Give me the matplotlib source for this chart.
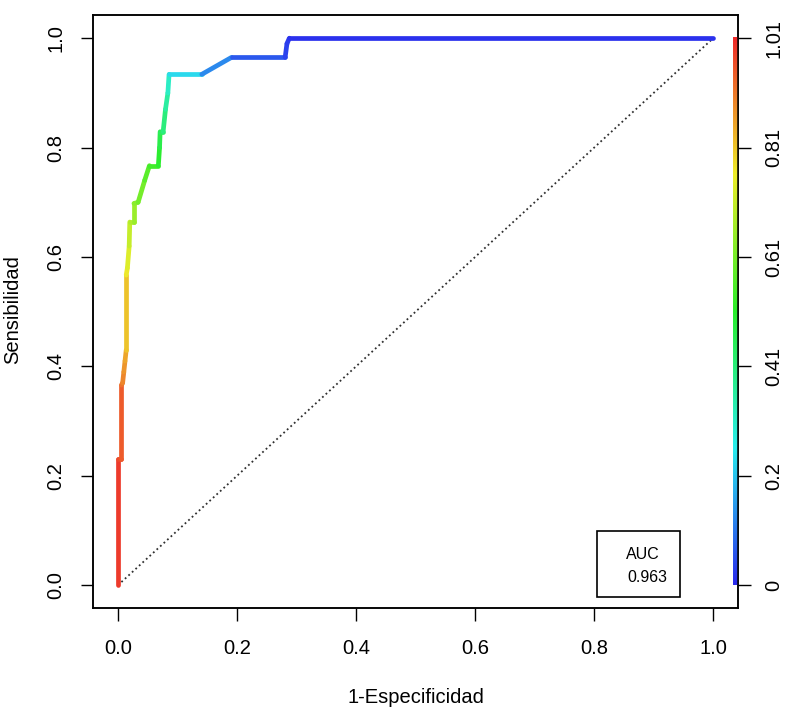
import colorsys
import numpy as np
import matplotlib
matplotlib.use("Agg")
import matplotlib.pyplot as plt
from matplotlib.collections import LineCollection
from matplotlib.colors import ListedColormap, Normalize
from matplotlib.patches import Rectangle

plt.rcParams['font.family'] = ['Liberation Sans', 'DejaVu Sans']

# puntos de la curva ROC
fpr = [0.0, 0.0, 0.006, 0.006, 0.008, 0.010, 0.012, 0.014, 0.014, 0.016, 0.019,
       0.020, 0.027, 0.027, 0.034, 0.045, 0.053, 0.068, 0.070, 0.071, 0.076,
       0.080, 0.084, 0.086, 0.141, 0.191, 0.281, 0.284, 0.288, 1.0]
tpr = [0.0, 0.23, 0.23, 0.366, 0.37, 0.39, 0.41, 0.43, 0.567, 0.58, 0.62,
       0.664, 0.664, 0.698, 0.70, 0.74, 0.767, 0.767, 0.80, 0.829, 0.829,
       0.87, 0.90, 0.934, 0.934, 0.965, 0.965, 0.99, 1.0, 1.0]
# punto de corte asociado a cada punto (escala de color)
cutoff = [1.01, 0.97, 0.96, 0.93, 0.90, 0.88, 0.86, 0.84, 0.78, 0.75, 0.72,
          0.69, 0.66, 0.64, 0.62, 0.58, 0.55, 0.52, 0.48, 0.45, 0.42,
          0.38, 0.33, 0.28, 0.17, 0.08, 0.04, 0.03, 0.02, 0.0]

cut_ticks = [0.0, 0.2, 0.4, 0.6, 0.8, 1.0]
cut_labels = ['0', '0.2', '0.41', '0.61', '0.81', '1.01']
auc = 0.963

# paleta tipo rainbow de R (rojo -> azul), invertida
cols = [colorsys.hsv_to_rgb((1 - t) * 4 / 6, 0.82, 0.93) for t in np.linspace(0, 1, 256)]
cmap = ListedColormap(cols)
norm = Normalize(vmin=0, vmax=1.01)

fig = plt.figure(figsize=(7.87, 7.25), dpi=100)
ax = fig.add_axes([0.118, 0.161, 0.820, 0.818])
ax.set_xlim(-0.042, 1.042)
ax.set_ylim(-0.042, 1.042)

# diagonal
ax.plot([0, 1], [0, 1], linestyle=':', color='#303030', lw=1.3)

x = np.array(fpr)
y = np.array(tpr)
c = np.array(cutoff)
pts = np.column_stack([x, y]).reshape(-1, 1, 2)
segs = np.concatenate([pts[:-1], pts[1:]], axis=1)
lc = LineCollection(segs, cmap=cmap, norm=norm, linewidths=3.4, capstyle='round', joinstyle='round')
lc.set_array((c[:-1] + c[1:]) / 2)
ax.add_collection(lc)

# barra de colores dentro del grafico
grad = np.linspace(0, 1.01, 256).reshape(-1, 1)
ax.imshow(grad, extent=[1.033, 1.041, 0, 1], origin='lower', aspect='auto',
          cmap=cmap, norm=norm, zorder=3)

# caja AUC
ax.add_patch(Rectangle((0.805, -0.022), 0.14, 0.121, fill=False, ec='black', lw=1.2))
ax.text(0.882, 0.057, 'AUC', ha='center', va='center', fontsize=11.5)
ax.text(0.889, 0.015, '%.3f' % auc, ha='center', va='center', fontsize=11.5)

ax.set_xticks([0, 0.2, 0.4, 0.6, 0.8, 1.0])
ax.set_xticklabels(['0.0', '0.2', '0.4', '0.6', '0.8', '1.0'])
ax.set_yticks([0, 0.2, 0.4, 0.6, 0.8, 1.0])
ax.set_yticklabels(['0.0', '0.2', '0.4', '0.6', '0.8', '1.0'], rotation=90, va='center')
ax.tick_params(axis='x', length=9, width=1, pad=13, labelsize=14.5)
ax.tick_params(axis='y', length=9, width=1, pad=11, labelsize=14.5)
ax.set_xlabel('1-Especificidad', fontsize=14.5, labelpad=22)
fig.text(13 / 787, 1 - 310 / 725, 'Sensibilidad', rotation=90, ha='center', va='center',
         fontsize=14.5)

ax2 = ax.twinx()
ax2.set_ylim(ax.get_ylim())
ax2.set_yticks(cut_ticks)
ax2.set_yticklabels(cut_labels, rotation=90, va='center')
ax2.tick_params(axis='y', length=9, width=1, pad=10, labelsize=14.5)

for a in (ax, ax2):
    for s in a.spines.values():
        s.set_linewidth(1.1)

fig.savefig('out.png', dpi=100)
